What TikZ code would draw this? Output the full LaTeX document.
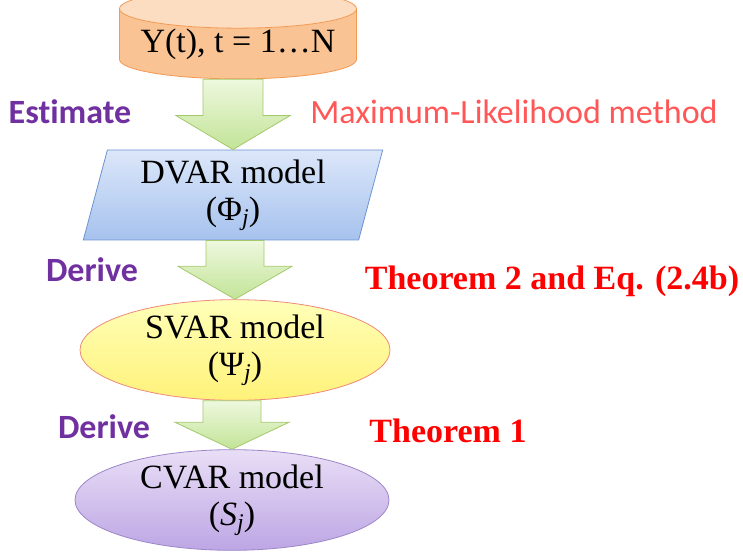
\documentclass[tikz,border=0pt]{standalone}
\usepackage{fontspec}
\setmainfont{Liberation Serif}
\newfontfamily\calibri[Ligatures=NoCommon]{Carlito}
\usetikzlibrary{
    shapes,
    calc
}
\definecolor{cylbody}{HTML}{F9C394}
\definecolor{cylend}{HTML}{FCDDC2}
\definecolor{cyledge}{HTML}{F39A52}
\definecolor{dvartop}{HTML}{DCE7F9}
\definecolor{dvarbottom}{HTML}{A6C2EE}
\definecolor{dvaredge}{HTML}{6C93D2}
\definecolor{svartop}{HTML}{FFFFB8}
\definecolor{svarbottom}{HTML}{FFF27A}
\definecolor{svaredge}{HTML}{EE8A7A}
\definecolor{cvartop}{HTML}{E9DEF6}
\definecolor{cvarbottom}{HTML}{BDA6E4}
\definecolor{cvaredge}{HTML}{9D86C9}
\definecolor{arrowtop}{HTML}{EEF8DE}
\definecolor{arrowbottom}{HTML}{C2E497}
\definecolor{arrowedge}{HTML}{A5C86C}
\definecolor{verbpurple}{HTML}{7030A0}
\definecolor{thmred}{HTML}{FF0000}
\definecolor{methodred}{HTML}{FF5757}
\newcommand{\jsub}{\raisebox{-0.35ex}{\fontsize{24}{24}\selectfont\itshape j}}

\begin{document}
\begin{tikzpicture}[x=1pt, y=1pt,
    model/.style={align=center, font=\fontsize{34}{37}\selectfont, inner sep=0pt},
    verb/.style={font=\calibri\bfseries\fontsize{34}{40}\selectfont, text=verbpurple},
    thm/.style={font=\bfseries\fontsize{34}{40}\selectfont, text=thmred},
    fatarrow/.style={draw=arrowedge, top color=arrowtop, bottom color=arrowbottom, line width=0.8pt}]
    \useasboundingbox (0, 0) rectangle (743, 552);
    \node[cylinder, shape border rotate=90, aspect=0.2, draw=cyledge, line width=0.8pt,
        cylinder uses custom fill, cylinder body fill=cylbody, cylinder end fill=cylend,
        minimum width=237pt, minimum height=80pt, inner sep=0pt,
        font=\fontsize{34}{40}\selectfont] (data) at (238, 508) {Y(t), t = 1…N};
    \node[model, trapezium, trapezium left angle=76, trapezium right angle=104,
        trapezium stretches, minimum width=300pt, minimum height=90pt,
        draw=dvaredge, line width=0.8pt, top color=dvartop, bottom color=dvarbottom]
        (dvar) at (233, 357) {DVAR model\\(Φ\jsub)};
    \node[model, ellipse, minimum width=310pt, minimum height=92pt,
        draw=svaredge, line width=0.8pt, top color=svartop, bottom color=svarbottom]
        (svar) at (235, 202) {SVAR model\\(Ψ\jsub)};
    \node[model, ellipse, minimum width=314pt, minimum height=96pt,
        draw=cvaredge, line width=0.8pt, top color=cvartop, bottom color=cvarbottom]
        (cvar) at (232, 52) {CVAR model\\(\textit{S}\jsub)};
    \draw[fatarrow] let \p1 = (data.south), \p2 = (dvar.north) in
        (\x2-30pt, \y1) -- (\x2-30pt, \y2+34pt) -- (\x2-57pt, \y2+34pt) -- (\p2)
        -- (\x2+57pt, \y2+34pt) -- (\x2+30pt, \y2+34pt) -- (\x2+30pt, \y1) -- cycle;
    \draw[fatarrow] let \p1 = (dvar.south), \p2 = (svar.north) in
        (\x2-29pt, \y1) -- (\x2-29pt, \y2+33pt) -- (\x2-57pt, \y2+33pt) -- (\p2)
        -- (\x2+57pt, \y2+33pt) -- (\x2+29pt, \y2+33pt) -- (\x2+29pt, \y1) -- cycle;
    \draw[fatarrow] let \p1 = (svar.south), \p2 = (cvar.north) in
        (\x2-29pt, \y1) -- (\x2-29pt, \y2+27pt) -- (\x2-57pt, \y2+27pt) -- (\p2)
        -- (\x2+57pt, \y2+27pt) -- (\x2+29pt, \y2+27pt) -- (\x2+29pt, \y1) -- cycle;
    \node[verb] (estimate) at (70, 440) {Estimate};
    \node[font=\calibri\fontsize{34}{40}\selectfont, text=methodred] (method) at (514, 440) {Maximum-Likelihood method};
    \node[verb] (derivea) at (92, 282) {Derive};
    \node[thm] (thma) at (552, 271) {Theorem 2 and Eq. (2.4b)};
    \node[verb] (deriveb) at (104, 125) {Derive};
    \node[thm] (thmb) at (448, 121) {Theorem 1};
\end{tikzpicture}
\end{document}
